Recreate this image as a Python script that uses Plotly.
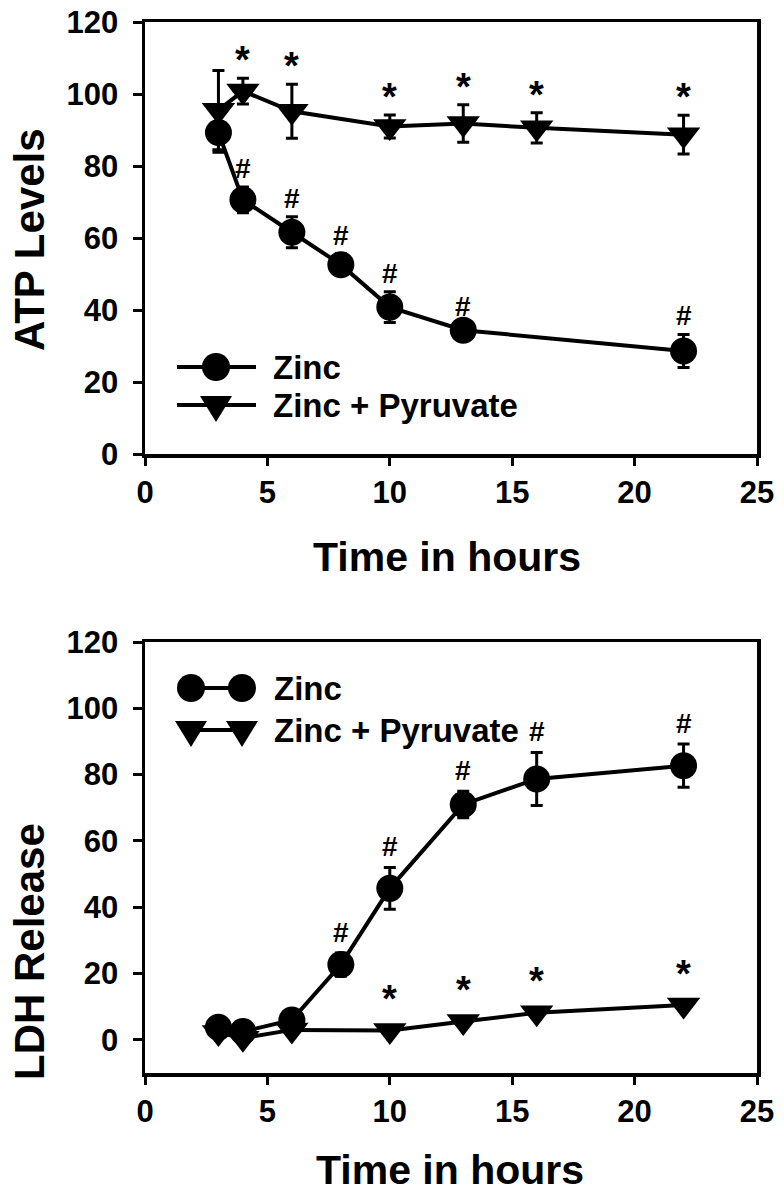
import plotly.graph_objects as go
from plotly.subplots import make_subplots

# ---------------- data ----------------
t_atp_zinc = [3, 4, 6, 8, 10, 13, 22]
atp_zinc = [89.3, 70.6, 61.6, 52.6, 40.8, 34.4, 28.6]
atp_zinc_err = [5.5, 3.6, 4.3, 3.0, 4.3, 1.5, 4.6]
atp_zinc_sig = ["", "#", "#", "#", "#", "#", "#"]

t_atp_pyr = [3, 4, 6, 10, 13, 16, 22]
atp_pyr = [95.5, 100.8, 95.2, 91.0, 91.8, 90.6, 88.7]
atp_pyr_err = [11.0, 3.6, 7.5, 3.2, 5.2, 4.2, 5.4]
atp_pyr_sig = ["", "*", "*", "*", "*", "*", "*"]

t_ldh_zinc = [3, 4, 6, 8, 10, 13, 16, 22]
ldh_zinc = [3.8, 2.5, 6.0, 22.7, 45.7, 71.0, 78.7, 82.7]
ldh_zinc_err = [1.0, 1.0, 1.0, 3.5, 6.3, 4.0, 8.0, 6.5]
ldh_zinc_sig = ["", "", "", "#", "#", "#", "#", "#"]

t_ldh_pyr = [3, 4, 6, 10, 13, 16, 22]
ldh_pyr = [2.2, 0.5, 3.0, 2.8, 5.5, 8.2, 10.5]
ldh_pyr_err = [1.0, 1.0, 1.0, 1.0, 1.0, 1.0, 1.0]
ldh_pyr_sig = ["", "", "", "*", "*", "*", "*"]

series_names = ["Zinc", "Zinc + Pyruvate"]
x_ticks = [0, 5, 10, 15, 20, 25]
y_ticks = [0, 20, 40, 60, 80, 100, 120]
x_title = "Time in hours"
y_titles = ["ATP Levels", "LDH Release"]

# ---------------- geometry (page pixels; body margin removed by post_script) ----------------
FONT = "Liberation Sans, Arial, sans-serif"
OFF = 0
W, H = 784 - 2 * OFF, 1199 - 2 * OFF
LEFT, RIGHT = 145 - OFF, 757 - OFF
TOP1, BOT1 = 22 - OFF, 454 - OFF
TOP2, BOT2 = 642 - OFF, 1073 - OFF
ML, MR, MT, MB = LEFT, W - RIGHT, TOP1, H - BOT2
PW, PH = W - ML - MR, H - MT - MB

def py2paper(py):
    return (H - MB - (py - OFF)) / PH

def px2paper(px):
    return ((px - OFF) - ML) / PW

top_dom = [py2paper(454), 1.0]
bot_dom = [0.0, py2paper(642)]

fig = make_subplots(rows=2, cols=1)

def add_series(x, y, err, symbol, size, row):
    fig.add_trace(go.Scatter(
        x=x, y=y, mode="lines+markers",
        line=dict(color="black", width=4),
        marker=dict(symbol=symbol, size=size, color="black", line=dict(width=0)),
        error_y=dict(type="data", array=err, visible=True, color="black",
                     thickness=3, width=6),
        showlegend=False,
    ), row=row, col=1)

add_series(t_atp_zinc, atp_zinc, atp_zinc_err, "circle", 27, 1)
add_series(t_atp_pyr, atp_pyr, atp_pyr_err, "triangle-down", 29, 1)
add_series(t_ldh_zinc, ldh_zinc, ldh_zinc_err, "circle", 27, 2)
add_series(t_ldh_pyr, ldh_pyr, ldh_pyr_err, "triangle-down", 29, 2)

annotations = []

def add_sig(x, y, err, sig, xref, yref, shift, size):
    for xi, yi, ei, s in zip(x, y, err, sig):
        if not s:
            continue
        annotations.append(dict(
            x=xi, y=yi + ei, xref=xref, yref=yref, text=s, showarrow=False,
            yanchor="bottom", xanchor="center", yshift=shift,
            font=dict(family=FONT, size=size, color="black", weight="bold"),
        ))

add_sig(t_atp_zinc, atp_zinc, atp_zinc_err, atp_zinc_sig, "x", "y", 1, 28)
add_sig(t_atp_pyr, atp_pyr, atp_pyr_err, atp_pyr_sig, "x", "y", -5, 38)
add_sig(t_ldh_zinc, ldh_zinc, ldh_zinc_err, ldh_zinc_sig, "x2", "y2", 3, 28)
add_sig(t_ldh_pyr, ldh_pyr, ldh_pyr_err, ldh_pyr_sig, "x2", "y2", 5, 38)

def title_ann(px, py, text, angle=0, size=41):
    return dict(x=px2paper(px), y=py2paper(py), xref="paper", yref="paper",
                text=text, showarrow=False, textangle=angle,
                xanchor="center", yanchor="middle",
                font=dict(family=FONT, size=size, color="black", weight="bold"))

annotations.append(title_ann(447, 557, x_title))
annotations.append(title_ann(450, 1170, x_title))
annotations.append(title_ann(29, 240, y_titles[0], -90, 42))
annotations.append(title_ann(29, 952, y_titles[1], -90, 42))

# ---------------- hand-drawn legends ----------------
shapes = []

def dom_x(px):
    return ((px - OFF) - LEFT) / (RIGHT - LEFT)

def circle_shape(xr, yr, xa, ya, r=14):
    return dict(type="circle", xref=xr, yref=yr, xsizemode="pixel", ysizemode="pixel",
                xanchor=xa, yanchor=ya, x0=-r, x1=r, y0=-r, y1=r,
                fillcolor="black", line=dict(width=0))

def tri_shape(xr, yr, xa, ya):
    return dict(type="path", xref=xr, yref=yr, xsizemode="pixel", ysizemode="pixel",
                xanchor=xa, yanchor=ya, path="M -16,9 L 16,9 L 0,-17 Z",
                fillcolor="black", line=dict(width=0))

def legend_line(xr, yr, x0, x1, y):
    return dict(type="line", xref=xr, yref=yr, x0=x0, x1=x1, y0=y, y1=y,
                line=dict(color="black", width=4))

def legend_text(xr, yr, x, y, text):
    return dict(x=x, y=y, xref=xr, yref=yr, text=text, showarrow=False,
                xanchor="left", yanchor="middle",
                font=dict(family=FONT, size=33, color="black", weight="bold"))

# top legend (line with centered marker)
tdy = lambda py: (454 - py) / (454 - 22)
for yy, sym, name in [(367, "c", series_names[0]), (405, "t", series_names[1])]:
    shapes.append(legend_line("x domain", "y domain", dom_x(177), dom_x(256), tdy(yy)))
    if sym == "c":
        shapes.append(circle_shape("x domain", "y domain", dom_x(216), tdy(yy)))
    else:
        shapes.append(tri_shape("x domain", "y domain", dom_x(216), tdy(yy)))
    annotations.append(legend_text("x domain", "y domain", dom_x(271), tdy(yy), name))

# bottom legend (markers at both ends)
bdy = lambda py: (1073 - py) / (1073 - 642)
for yy, sym, name in [(688, "c", series_names[0]), (730, "t", series_names[1])]:
    shapes.append(legend_line("x2 domain", "y2 domain", dom_x(191), dom_x(242), bdy(yy)))
    for xx in (191, 242):
        if sym == "c":
            shapes.append(circle_shape("x2 domain", "y2 domain", dom_x(xx), bdy(yy)))
        else:
            shapes.append(tri_shape("x2 domain", "y2 domain", dom_x(xx), bdy(yy)))
    annotations.append(legend_text("x2 domain", "y2 domain", dom_x(272), bdy(yy), name))

axis_common = dict(showline=True, linecolor="black", linewidth=3.5, mirror=True,
                   ticks="outside", tickcolor="black", tickwidth=3,
                   showgrid=False, zeroline=False, ticklabeloverflow="allow",
                   tickfont=dict(family=FONT, size=31, color="black", weight="bold"))

fig.update_xaxes(range=[0, 25], tickvals=x_ticks, ticklen=8, ticklabelstandoff=0, **axis_common)
fig.update_yaxes(tickvals=y_ticks, ticklen=9, ticklabelstandoff=8, **axis_common)
fig.update_yaxes(range=[0, 120], domain=top_dom, row=1, col=1)
fig.update_yaxes(range=[-10, 120], domain=bot_dom, row=2, col=1)
fig.update_xaxes(anchor="y", row=1, col=1)
fig.update_xaxes(anchor="y2", row=2, col=1)

fig.update_layout(
    width=W, height=H,
    margin=dict(l=ML, r=MR, t=MT, b=MB, autoexpand=False),
    paper_bgcolor="white", plot_bgcolor="white",
    showlegend=False,
    hovermode=False,
    annotations=annotations,
    shapes=shapes,
    font=dict(family=FONT, color="black"),
)

fig.write_html("out.html",
               config={"displayModeBar": False, "staticPlot": True},
               post_script="document.body.style.margin='0px';document.body.style.overflow='hidden';")
